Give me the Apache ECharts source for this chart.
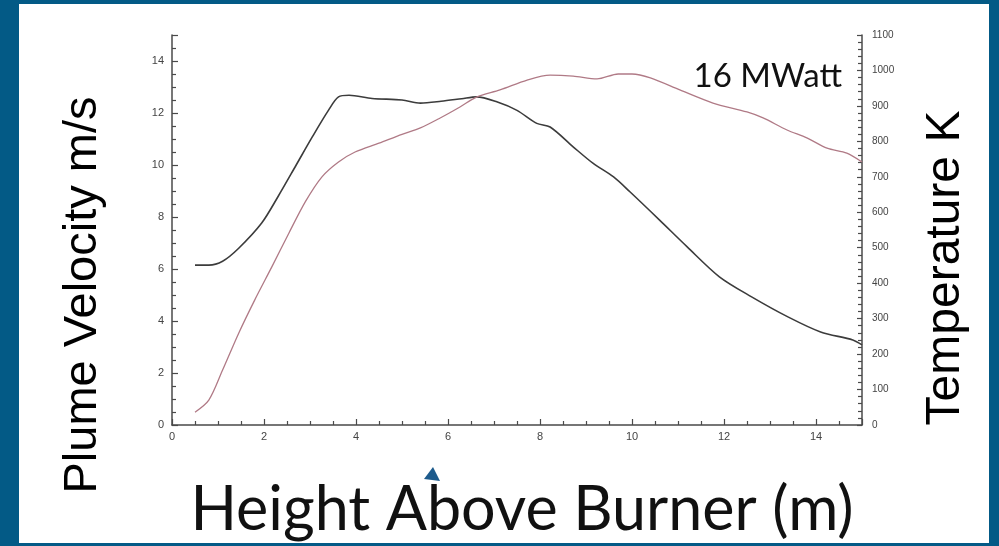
<!DOCTYPE html>
<html>
<head>
<meta charset="utf-8">
<script src="https://cdn.jsdelivr.net/npm/echarts@6/dist/echarts.min.js"></script>
<style>
html,body{margin:0;padding:0;background:#035a86;}
#c{width:999px;height:546px;}
</style>
</head>
<body>
<div id="c"></div>
<script>
// Plume velocity (left axis, m/s) vs height (m)
var velHeights = [0.5,0.8,1.1,1.45,1.95,2.3,2.7,3.05,3.4,3.62,3.85,4.35,5.0,5.4,5.85,6.3,6.62,7.06,7.5,7.93,8.22,8.72,9.15,9.6,9.96,10.6,11.2,11.9,12.6,13.4,14.1,14.8,15.0];
var velocity   = [6.15,6.15,6.3,6.8,7.77,8.77,10.0,11.08,12.1,12.62,12.68,12.56,12.5,12.38,12.45,12.55,12.62,12.43,12.1,11.6,11.46,10.7,10.07,9.54,8.96,7.88,6.85,5.7,4.93,4.15,3.58,3.27,3.08];
// Temperature (right axis, K) vs height (m)
var tempHeights = [0.5,0.8,1.1,1.45,1.8,2.17,2.54,2.9,3.26,3.62,3.98,4.5,5.0,5.4,5.83,6.26,6.62,7.13,7.72,8.22,8.72,9.24,9.7,10.0,10.4,11.04,11.76,12.5,12.85,13.37,13.8,14.24,14.67,15.0];
var temperature = [36,70,155,259,353,446,541,630,700,742,770,795,820,838,866,897,925,945,973,987,984,976,990,990,979,945,908,883,866,832,810,781,767,742];

var xTitle = 'Height Above Burner (m)';
var yLeftTitle = 'Plume Velocity m/s';
var yRightTitle = 'Temperature K';
var annotation = '16 MWatt';

function pairs(xs, ys){ return xs.map(function(x,i){ return [x, ys[i]]; }); }

var axisCol = '#4a4a4a';
var chart = echarts.init(document.getElementById('c'));
chart.setOption({
  animation: false,
  backgroundColor: '#035a86',
  grid: {left: 172, right: 137, top: 35, bottom: 121},
  graphic: [
    {type:'rect', z:-10, shape:{x:19, y:4, width:970, height:539}, style:{fill:'#ffffff'}},
    {type:'text', rotation: Math.PI/2, x: 83, y: 295, style:{text: yLeftTitle, font:'47px "Liberation Sans", Arial, sans-serif', fill:'#000', align:'center', verticalAlign:'middle'}},
    {type:'text', rotation: Math.PI/2, x: 946, y: 268, style:{text: yRightTitle, font:'48px "Liberation Sans", Arial, sans-serif', fill:'#000', align:'center', verticalAlign:'middle'}},
    {type:'text', x: 522, y: 510, style:{text: xTitle, font:'61px Lato, sans-serif', fill:'#111', align:'center', verticalAlign:'middle'}},
    {type:'text', x: 842, y: 76, style:{text: annotation, font:'33px Lato, sans-serif', fill:'#111', align:'right', verticalAlign:'middle'}},
    {type:'polygon', shape:{points:[[433,467],[424,479],[440,481]]}, style:{fill:'#1d5b8c'}}
  ],
  xAxis: {
    type:'value', min:0, max:15, interval:2,
    axisLine:{show:true, onZero:false, lineStyle:{color:axisCol, width:1.5}},
    axisTick:{show:true, inside:true, length:6, lineStyle:{color:axisCol, width:1.2}},
    minorTick:{show:true, splitNumber:4, length:4, lineStyle:{color:axisCol, width:1.2}},
    splitLine:{show:false},
    axisLabel:{color:'#444', fontSize:11, margin:6, showMaxLabel:false, fontFamily:'Liberation Sans, Arial, sans-serif'}
  },
  yAxis: [
    {
      type:'value', position:'left', min:0, max:15, interval:2,
      axisLine:{show:true, onZero:false, lineStyle:{color:axisCol, width:1.5}},
      axisTick:{show:true, inside:true, length:6, lineStyle:{color:axisCol, width:1.2}},
      minorTick:{show:true, splitNumber:4, length:4, lineStyle:{color:axisCol, width:1.2}},
      splitLine:{show:false},
      axisLabel:{color:'#444', fontSize:11, margin:8, showMaxLabel:false, fontFamily:'Liberation Sans, Arial, sans-serif'}
    },
    {
      type:'value', position:'right', min:0, max:1100, interval:100,
      axisLine:{show:true, onZero:false, lineStyle:{color:axisCol, width:1.5}},
      axisTick:{show:true, inside:true, length:5, lineStyle:{color:axisCol, width:1.2}},
      minorTick:{show:true, splitNumber:5, length:4, lineStyle:{color:axisCol, width:1.2}},
      splitLine:{show:false},
      axisLabel:{color:'#444', fontSize:10, margin:10, fontFamily:'Liberation Sans, Arial, sans-serif',
        formatter: function(v){ return String(v); }}
    }
  ],
  series: [
    {type:'line', name:'Velocity', yAxisIndex:0, data: pairs(velHeights, velocity), smooth:0.3, showSymbol:false,
     lineStyle:{color:'#3c3c3c', width:1.6}},
    {type:'line', name:'Temperature', yAxisIndex:1, data: pairs(tempHeights, temperature), smooth:0.3, showSymbol:false,
     lineStyle:{color:'#b07a86', width:1.3}}
  ]
});
</script>
</body>
</html>
